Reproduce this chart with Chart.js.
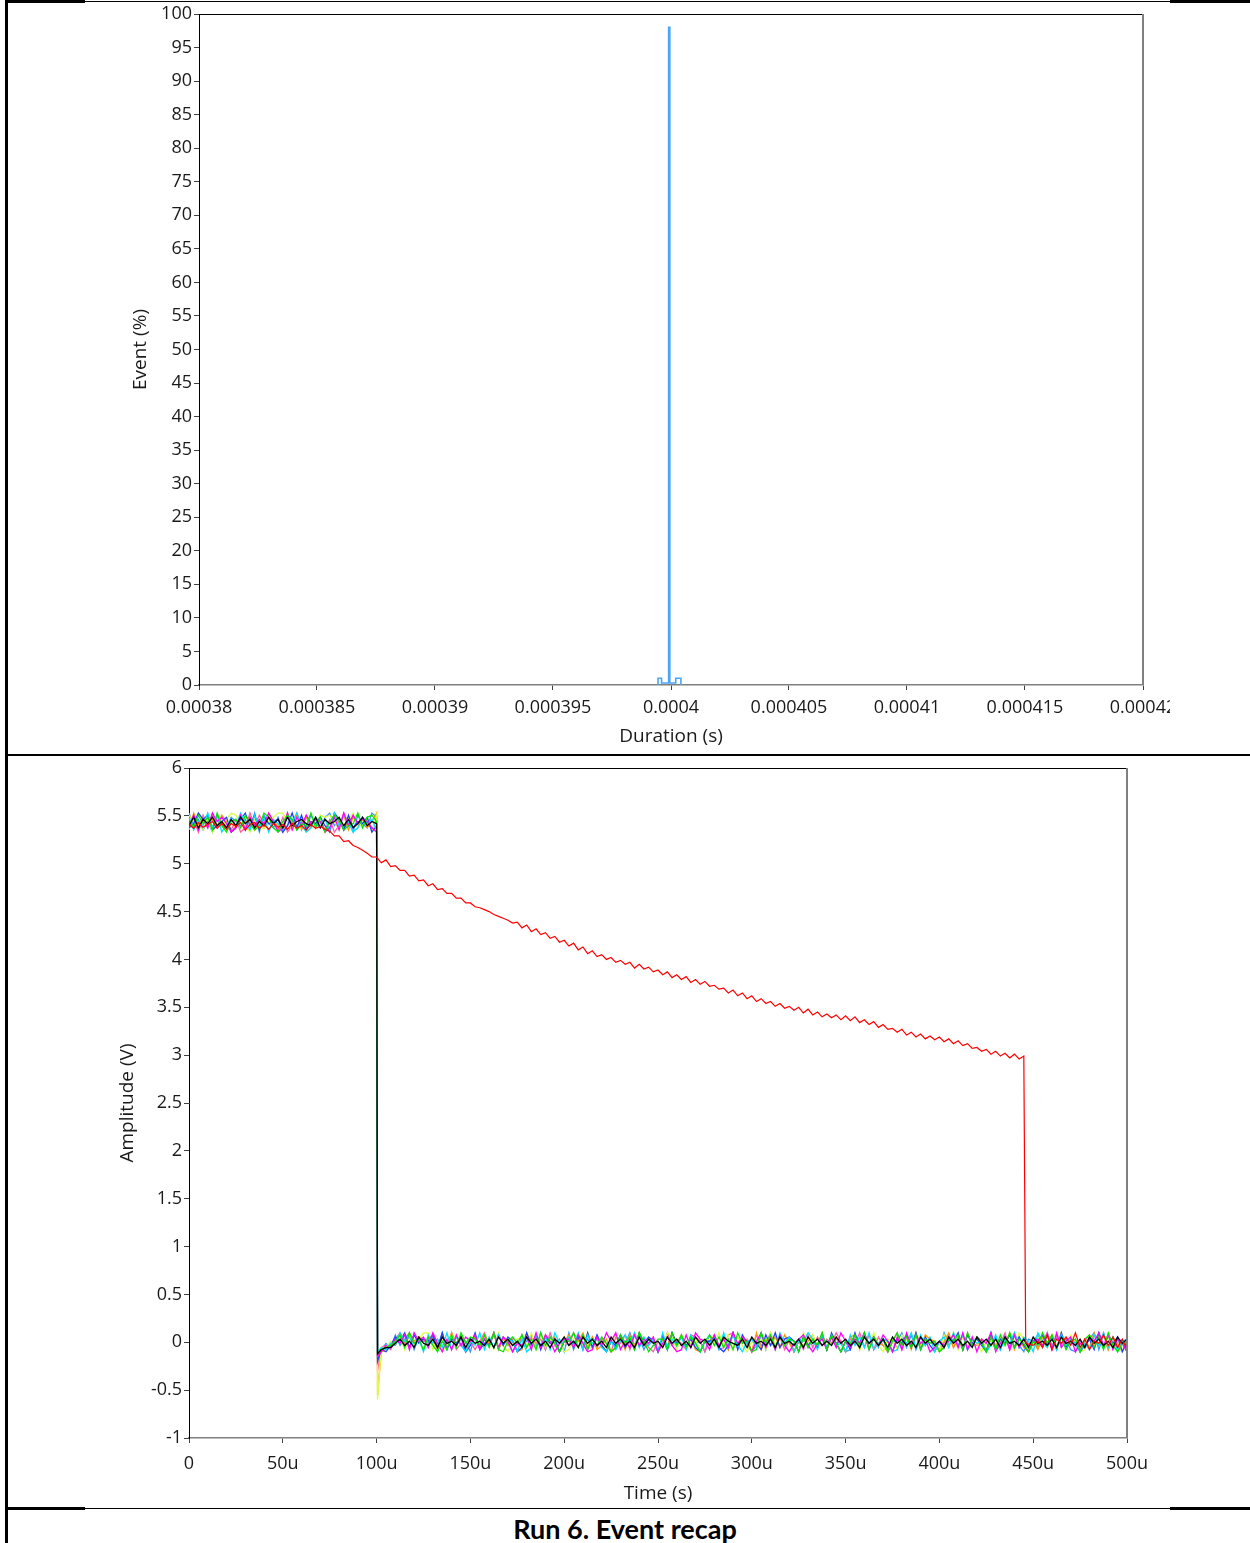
<!DOCTYPE html>
<html>
<head>
<meta charset="utf-8">
<title>Run 6. Event recap</title>
<script src="https://cdn.jsdelivr.net/npm/chart.js@4.4.0/dist/chart.umd.min.js"></script>
<style>
  body { margin: 0; width: 1250px; height: 1543px; background: #fff; position: relative; overflow: hidden; }
  canvas { position: absolute; }
  .rule { position: absolute; background: #000; }
  #caption { position: absolute; left: 0; top: 1512px; width: 1250px; line-height: 32px; text-align: center;
             font: bold 27px Lato, sans-serif; color: #000; }
</style>
</head>
<body>
<canvas id="durationChart" width="1041" height="750" style="left:129px;top:0"></canvas>
<canvas id="amplitudeChart" width="1044" height="747" style="left:116px;top:758px"></canvas>

<!-- table lines of the report page -->
<div class="rule" style="left:5px;top:0;width:3px;height:1543px"></div>
<div class="rule" style="left:5px;top:0;width:80px;height:3px"></div>
<div class="rule" style="left:85px;top:1px;width:1085px;height:1px"></div>
<div class="rule" style="left:1170px;top:0;width:80px;height:3px"></div>
<div class="rule" style="left:5px;top:754px;width:1245px;height:2px"></div>
<div class="rule" style="left:5px;top:1507px;width:80px;height:3px"></div>
<div class="rule" style="left:85px;top:1508px;width:1085px;height:1px"></div>
<div class="rule" style="left:1170px;top:1507px;width:80px;height:3px"></div>
<div id="caption">Run 6. Event recap</div>

<script>
// ---- histogram of event duration ----
var durationEdges = [0.00039945, 0.0003996, 0.0003999, 0.00039995, 0.0004002, 0.00040042];
var eventPercent = [1, 0.3, 98, 0.3, 1];
var durationTicks = [0.00038, 0.000385, 0.00039, 0.000395, 0.0004, 0.000405, 0.00041, 0.000415, 0.00042];
var durationTickLabels = ['0.00038', '0.000385', '0.00039', '0.000395', '0.0004', '0.000405', '0.00041', '0.000415', '0.00042'];

// ---- recorded waveforms (time in us, amplitude in V) ----
var timeTicks = [0, 50, 100, 150, 200, 250, 300, 350, 400, 450, 500];
var timeTickLabels = ['0', '50u', '100u', '150u', '200u', '250u', '300u', '350u', '400u', '450u', '500u'];

var SAMPLE_US = 2.5;     // spacing of the samples below
var HIGH_LEVEL = 5.43;   // level before the event
var LOW_LEVEL = 0.0;     // level after the event
var NOISE_STEP = 0.022;  // volts per digit in the noise strings (digit 4.5 = level)

// each trace: noise before 100u (0..100u), the undershoot at 100.5u, noise after (102.5u..500u)
var traceNames  = ['black', 'lime', 'magenta', 'cyan', 'blue', 'yellow', 'orange', 'pink', 'sky'];
var traceColors = ['#000000', '#00e600', '#ff00ff', '#00e0ff', '#2040ff', '#d8ff40', '#ff9a00', '#ff5fa8', '#3399ff'];
var traceHigh = [
  '3726473526 3746253746 2735643726 4573624735 4',
  '6284719305 6284139720 5861439270 5861349278 5',
  '3816295740 2817364950 2917384650 2719384652 0',
  '7153928046 3951827064 1859302746 1938502746 1',
  '2496813570 2693817456 0392815473 0961825470 3',
  '8531704269 8430612579 9513602487 8513692470 8',
  '1937462850 3847162953 0948173650 2948173625 9',
  '4608293751 6029384751 7039284651 6039482751 6',
  '9361508427 5361908427 0361528427 9361508429 7'
];
var traceDip = [-0.12, -0.12, -0.15, -0.1, -0.2, -0.6, -0.55, -0.3, -0.15];
var traceLow = [
  '1224635274 3627453726 4536274635 2746352647 3527463527 4635273645 2746352746 3627543627 4536274536 2746353746 3527463627 4635274635 2746352746 3627453627 4536274536 2746352746',
  '1235829461 7305182947 6382910574 8261937405 5928163740 2847195036 6193827405 8372619450 1948273650 7263918405 4829173605 9372816450 2658193740 7183926405 3948271560 6827193045',
  '0326481957 2940618375 8163927504 3719285046 6284017395 9152836470 4730182965 1836294750 5927183046 8304617295 2649173850 7193846025 3582917064 9047182635 6381925704 2759381640',
  '2143957260 8462917305 3917284650 6028371945 7391846205 1584927360 9263718405 4719283056 2836194705 5961827340 8372914650 1649283705 7293816450 3816492750 9527183640 4183927056',
  '1037592846 5829164703 9146283750 2938174605 6471928305 3826194750 8194736205 5720391846 4183926750 7362819405 1928473650 6482917305 2759184630 9164827305 5837192640 3619284705',
  '2254718369 9160384725 4827193056 7391826450 1683927405 8246193750 3971824605 6492817305 2719384650 9382716405 4718293065 1863927450 8291736405 5173829604 7426193850 1839274605',
  '0143829576 3617294805 7284916350 1936284705 8459271360 2718394650 6394827105 4827193560 9163728405 3582917640 7819264305 2471938650 5927184360 8364917205 1748293650 6293817405',
  '2316948275 6827391405 1593827460 8274619305 3958172640 7481936205 2936418750 5712893640 8349271605 1827364950 6492817305 9173826450 4826193750 7349182605 2591837460 5863917240',
  '1428369175 4719283650 8263917405 3582917460 9174628305 2849371650 6193827450 8527193640 3918274605 7263918450 1849372605 5928173640 9362814750 4718293065 8293746105 3691827450'
];

// the red trace sags slowly and only drops at ~446u (0..445u every 2.5u)
var redLevels = [
  5.41, 5.37, 5.43, 5.38, 5.41, 5.44, 5.37, 5.42, 5.36, 5.42,
  5.39, 5.43, 5.35, 5.41, 5.43, 5.37, 5.41, 5.36, 5.42, 5.38,
  5.41, 5.36, 5.42, 5.37, 5.40, 5.35, 5.41, 5.37, 5.39, 5.36,
  5.34, 5.29, 5.29, 5.23, 5.24, 5.19, 5.17, 5.14, 5.11, 5.07,
  5.07, 5.01, 5.04, 4.97, 4.98, 4.93, 4.93, 4.87, 4.88, 4.82,
  4.83, 4.77, 4.79, 4.73, 4.74, 4.69, 4.69, 4.64, 4.64, 4.59,
  4.59, 4.55, 4.54, 4.52, 4.50, 4.47, 4.45, 4.43, 4.41, 4.38,
  4.39, 4.33, 4.36, 4.29, 4.32, 4.26, 4.28, 4.22, 4.24, 4.18,
  4.20, 4.14, 4.17, 4.10, 4.13, 4.06, 4.09, 4.03, 4.05, 4.00,
  4.02, 3.97, 3.99, 3.95, 3.97, 3.91, 3.95, 3.90, 3.92, 3.87,
  3.89, 3.84, 3.87, 3.81, 3.84, 3.79, 3.82, 3.76, 3.79, 3.74,
  3.77, 3.72, 3.73, 3.69, 3.70, 3.65, 3.68, 3.62, 3.65, 3.59,
  3.62, 3.56, 3.59, 3.54, 3.56, 3.51, 3.54, 3.49, 3.51, 3.47,
  3.50, 3.44, 3.48, 3.42, 3.45, 3.40, 3.43, 3.39, 3.42, 3.37,
  3.41, 3.36, 3.40, 3.34, 3.37, 3.32, 3.35, 3.29, 3.32, 3.27,
  3.28, 3.24, 3.27, 3.21, 3.24, 3.19, 3.22, 3.17, 3.20, 3.16,
  3.19, 3.14, 3.17, 3.12, 3.15, 3.10, 3.12, 3.07, 3.08, 3.04,
  3.06, 3.01, 3.04, 2.99, 3.02, 2.97, 3.01, 2.96, 2.99
];
var redDropTime = 446;
var redTail = '43528164739261548372615';  // 446u, then 447.5u..500u

Chart.defaults.font.family = "'Open Sans', sans-serif";
Chart.defaults.font.size = 18;
Chart.defaults.color = '#1a1a1a';

// helpers
function readDigits(str, level) {
  return str.replace(/\s/g, '').split('').map(function (d) {
    return level + (Number(d) - 4.5) * NOISE_STEP;
  });
}

function tracePoints(i) {
  var pts = readDigits(traceHigh[i], HIGH_LEVEL).map(function (v, k) { return {x: k * SAMPLE_US, y: v}; });
  pts.push({x: 100.5, y: traceDip[i]});
  readDigits(traceLow[i], LOW_LEVEL).forEach(function (v, k) { pts.push({x: 102.5 + k * SAMPLE_US, y: v}); });
  return pts;
}

function redPoints() {
  var pts = redLevels.map(function (v, k) { return {x: k * SAMPLE_US, y: v}; });
  readDigits(redTail, LOW_LEVEL).forEach(function (v, k) {
    pts.push({x: k === 0 ? redDropTime : 445 + (k + 1) * SAMPLE_US, y: v});
  });
  return pts;
}

// black top edge + grey right edge of the plot box
var plotFrame = {
  id: 'plotFrame',
  afterDraw: function (chart) {
    var ctx = chart.ctx, a = chart.chartArea;
    ctx.save();
    ctx.strokeStyle = '#000';
    ctx.lineWidth = 1;
    ctx.beginPath();
    ctx.moveTo(a.left, a.top + 0.5);
    ctx.lineTo(a.right, a.top + 0.5);
    ctx.stroke();
    ctx.strokeStyle = '#808080';
    ctx.lineWidth = 2;
    ctx.beginPath();
    ctx.moveTo(a.right, a.top);
    ctx.lineTo(a.right, a.bottom);
    ctx.stroke();
    ctx.restore();
  }
};

function fixWidth(w) {
  return function (scale) { scale.width = w; scale.paddingTop = 0; scale.paddingBottom = 0; };
}
function fixHeight(h) {
  return function (scale) { scale.height = h; scale.paddingLeft = 0; scale.paddingRight = 0; };
}

// duration histogram
var histPoints = [{x: durationEdges[0], y: 0}];
eventPercent.forEach(function (p, i) { histPoints.push({x: durationEdges[i], y: p}); });
histPoints.push({x: durationEdges[durationEdges.length - 1], y: 0});

var ctx = document.getElementById('durationChart').getContext('2d');
var chart = new Chart(ctx, {
  type: 'line',
  data: {
    datasets: [{
      label: 'Event',
      data: histPoints,
      borderColor: '#4aa5f5',
      borderWidth: 1.6,
      stepped: true,
      pointRadius: 0,
      fill: false
    }]
  },
  options: {
    responsive: false,
    animation: false,
    events: [],
    layout: { padding: { top: 14, right: 27, left: 0, bottom: 0 } },
    plugins: { legend: { display: false }, tooltip: { enabled: false } },
    scales: {
      x: {
        type: 'linear',
        min: 0.00038,
        max: 0.00042,
        afterBuildTicks: function (s) { s.ticks = durationTicks.map(function (v) { return {value: v}; }); },
        afterFit: fixHeight(65),
        ticks: {
          autoSkip: false, maxRotation: 0, padding: 7,
          callback: function (v, i) { return durationTickLabels[i]; }
        },
        grid: { drawOnChartArea: false, drawTicks: true, tickLength: 5, color: '#404040' },
        border: { display: true, color: '#808080', width: 1.5 },
        title: { display: true, text: 'Duration (s)', font: { size: 19 }, padding: { top: 0, bottom: 2 } }
      },
      y: {
        min: 0,
        max: 100,
        afterFit: fixWidth(70),
        ticks: { stepSize: 5, autoSkip: false, padding: 2 },
        grid: { drawOnChartArea: false, drawTicks: true, tickLength: 5, color: '#404040' },
        border: { display: true, color: '#000', width: 1 },
        title: { display: true, text: 'Event (%)', font: { size: 19 }, padding: { top: 0, bottom: 0 } }
      }
    }
  },
  plugins: [plotFrame]
});

// amplitude traces
var datasets = [{
  label: 'red',
  data: redPoints(),
  borderColor: '#ff0000',
  borderWidth: 1.2,
  pointRadius: 0,
  fill: false
}];
traceNames.forEach(function (name, i) {
  datasets.push({
    label: name,
    data: tracePoints(i),
    borderColor: traceColors[i],
    borderWidth: 1.3,
    pointRadius: 0,
    fill: false
  });
});

var ctx = document.getElementById('amplitudeChart').getContext('2d');
var chart = new Chart(ctx, {
  type: 'line',
  data: { datasets: datasets },
  options: {
    responsive: false,
    animation: false,
    events: [],
    layout: { padding: { top: 10, right: 33, left: 0, bottom: 0 } },
    plugins: { legend: { display: false }, tooltip: { enabled: false } },
    scales: {
      x: {
        type: 'linear',
        min: 0,
        max: 500,
        afterBuildTicks: function (s) { s.ticks = timeTicks.map(function (v) { return {value: v}; }); },
        afterFit: fixHeight(67),
        ticks: {
          autoSkip: false, maxRotation: 0, padding: 10,
          callback: function (v, i) { return timeTickLabels[i]; }
        },
        grid: { drawOnChartArea: false, drawTicks: true, tickLength: 5, color: '#404040' },
        border: { display: true, color: '#808080', width: 1.5 },
        title: { display: true, text: 'Time (s)', font: { size: 19 }, padding: { top: 0, bottom: 0 } }
      },
      y: {
        min: -1,
        max: 6,
        afterFit: fixWidth(73),
        ticks: { stepSize: 0.5, autoSkip: false, padding: 2, callback: function (v) { return String(v); } },
        grid: { drawOnChartArea: false, drawTicks: true, tickLength: 5, color: '#404040' },
        border: { display: true, color: '#000', width: 1 },
        title: { display: true, text: 'Amplitude (V)', font: { size: 19 }, padding: { top: 0, bottom: 0 } }
      }
    }
  },
  plugins: [plotFrame]
});
</script>
</body>
</html>
